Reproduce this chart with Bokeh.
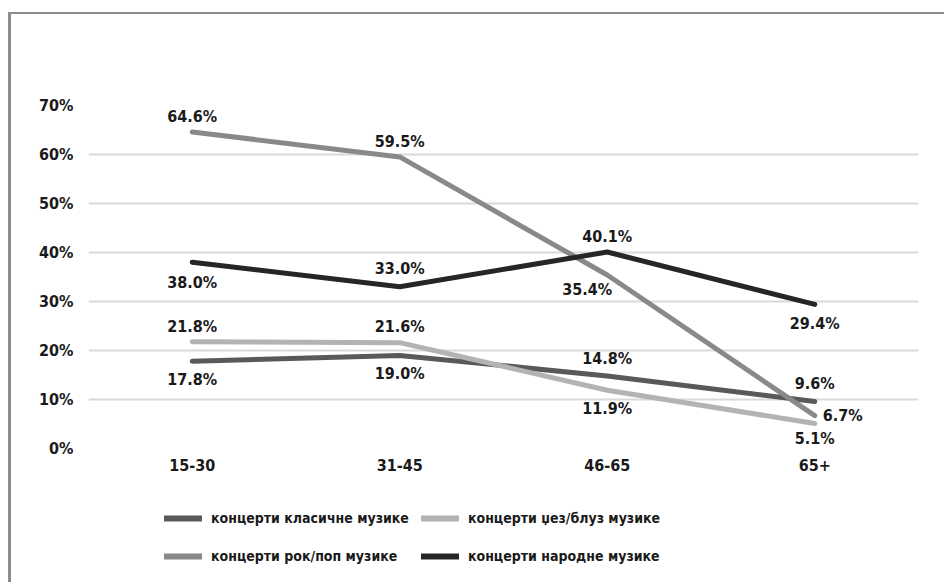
from bokeh.plotting import figure
from bokeh.layouts import column
from bokeh.models import ColumnDataSource, FixedTicker, Legend, LegendItem, Range1d
from bokeh.core.properties import value
from bokeh.embed import file_html
from bokeh.resources import INLINE

categories = ["15-30", "31-45", "46-65", "65+"]
series_names = ["концерти класичне музике", "концерти џез/блуз музике",
                "концерти рок/поп музике", "концерти народне музике"]
classical = [17.8, 19.0, 14.8, 9.6]
jazz = [21.8, 21.6, 11.9, 5.1]
rock = [64.6, 59.5, 35.4, 6.7]
folk = [38.0, 33.0, 40.1, 29.4]
y_ticks = [0, 10, 20, 30, 40, 50, 60, 70]
y_tick_labels = ["0%", "10%", "20%", "30%", "40%", "50%", "60%", "70%"]

# styling / label placement (screen offsets, not data)
colors = ["#595959", "#b3b3b3", "#898989", "#262626"]
label_dx = [[0, 0, 0, 0], [0, 0, 0, 0], [0, 0, -20, 8], [0, 0, 0, 0]]
label_dy = [[18, 18, -17, -18], [-15, -16, 18, 15], [-15, -15, 14, 0], [20, -18, -16, 19]]
label_align = [["center"] * 4, ["center"] * 4, ["center", "center", "center", "left"], ["center"] * 4]
legend_order = [0, 2, 1, 3]   # column-major fill -> rows: classical/jazz, rock/folk

FONT = "'Liberation Sans Narrow', 'DejaVu Sans Condensed', sans-serif"

p = figure(x_range=categories, y_range=Range1d(0, 70), width=933, height=468,
           output_backend="svg", toolbar_location=None,
           min_border_left=77, min_border_right=26, min_border_top=91, min_border_bottom=34)
p.outline_line_color = None
p.background_fill_color = "white"
p.border_fill_color = "white"

p.xgrid.grid_line_color = None
p.ygrid.grid_line_color = "#d9d9d9"
p.ygrid.grid_line_width = 2
p.yaxis.ticker = FixedTicker(ticks=y_ticks)
p.yaxis.major_label_overrides = {t: l for t, l in zip(y_ticks, y_tick_labels)}
for ax in (p.xaxis[0], p.yaxis[0]):
    ax.axis_line_color = None
    ax.major_tick_line_color = None
    ax.minor_tick_line_color = None
    ax.major_label_text_font = FONT
    ax.major_label_text_font_style = "bold"
    ax.major_label_text_font_size = "16px"
    ax.major_label_text_color = "#1a1a1a"
p.yaxis.major_label_standoff = 9
p.xaxis.major_label_standoff = 4

# legend-only figure below the chart
pl = figure(width=933, height=100, x_range=Range1d(0, 1), y_range=Range1d(0, 1),
            output_backend="svg", toolbar_location=None,
            x_axis_type=None, y_axis_type=None,
            min_border_left=0, min_border_right=0, min_border_top=0, min_border_bottom=0)
pl.outline_line_color = None
pl.grid.grid_line_color = None
pl.background_fill_color = "white"
pl.border_fill_color = "white"

all_series = [classical, jazz, rock, folk]
legend_renderers = []
for i, vals in enumerate(all_series):
    src = ColumnDataSource(dict(x=categories, y=vals,
                                t=["%.1f%%" % v for v in vals],
                                dx=label_dx[i], dy=label_dy[i], al=label_align[i]))
    p.line("x", "y", source=src, line_color=colors[i], line_width=5,
           line_join="round", line_cap="round")
    p.text("x", "y", text="t", source=src, x_offset="dx", y_offset="dy",
           text_align="al", text_baseline="middle",
           text_font=value(FONT), text_font_style="bold", text_font_size="16px",
           text_color="#1a1a1a")
    lr = pl.line(x=[float("nan")], y=[float("nan")], line_color=colors[i],
                 line_width=6, line_cap="round")
    legend_renderers.append(lr)

items = [LegendItem(label=series_names[k], renderers=[legend_renderers[k]]) for k in legend_order]
legend = Legend(items=items, ncols=2, location=(76, 13),
                glyph_width=38, glyph_height=26, label_standoff=9, label_width=180,
                spacing=12, padding=0, margin=0,
                label_text_font=FONT, label_text_font_style="bold",
                label_text_font_size="14px", label_text_color="#1a1a1a",
                border_line_color=None, background_fill_alpha=0)
pl.add_layout(legend, "center")

layout = column(p, pl, spacing=0)
layout.styles = {"border-top": "2px solid #8c8c8c", "border-left": "3px solid #8c8c8c",
                 "margin-top": "12px", "margin-left": "8px"}

open("out.html", "w").write(file_html(layout, INLINE))
